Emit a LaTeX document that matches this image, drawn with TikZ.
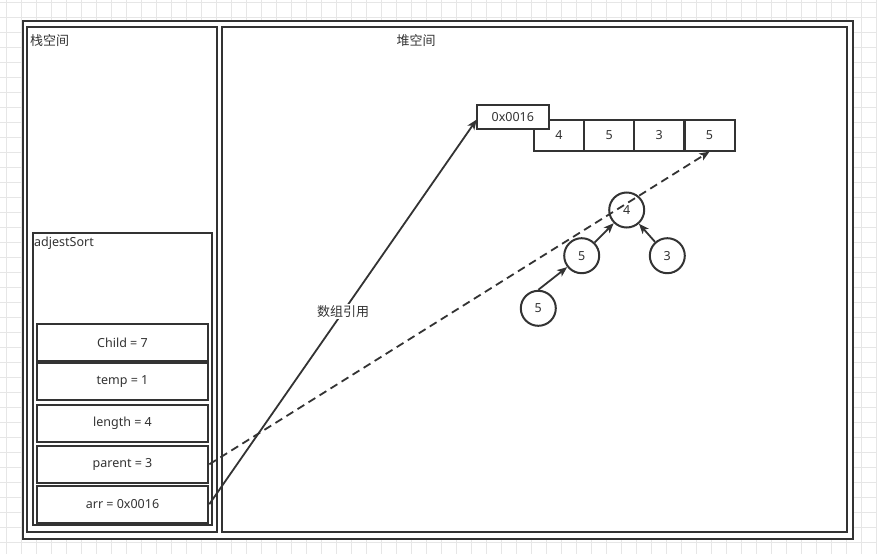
\documentclass[tikz,border=0pt]{standalone}
\usepackage{fontspec}
\setmainfont{Noto Sans}
\newfontfamily\cjk{Noto Sans CJK SC}
\usetikzlibrary{arrows.meta}
\definecolor{ink}{HTML}{333333}
\definecolor{gridc}{HTML}{E6E6E6}
\begin{document}
\begin{tikzpicture}[x=1pt,y=-1pt,
  font=\fontsize{12.5}{15}\selectfont, text=ink,
  frame/.style={draw=ink, line width=2pt},
  var/.style={draw=ink, line width=2pt, fill=white, minimum width=171.6pt, minimum height=37pt, inner sep=0pt},
  cell/.style={draw=ink, line width=2pt, fill=white, minimum width=50pt, minimum height=30.7pt, inner sep=0pt},
  heapnode/.style={draw=ink, line width=2pt, fill=white, circle, minimum size=35pt, inner sep=0pt},
  conn/.style={draw=ink, line width=1.8pt},
  tip/.style={-{Stealth[length=10pt,width=8pt,inset=2.5pt]}}
]
\useasboundingbox (0,0) rectangle (877,554);
% background grid
\fill[white] (0,0) rectangle (877,554);
\foreach \gx in {0,...,58} {\draw[gridc, line width=0.8pt] ({6.7+15*\gx},0) -- ({6.7+15*\gx},554);}
\foreach \gy in {0,...,36} {\draw[gridc, line width=0.8pt] (0,{2.5+15*\gy}) -- (877,{2.5+15*\gy});}
% containers
\draw[frame, fill=white] (22.7,20.7) rectangle (852.7,539.3);
\draw[frame] (27.3,27.3) rectangle (217.3,531.7);
\draw[frame] (221.7,27.3) rectangle (846.7,532.3);
\draw[frame] (33.3,233.3) rectangle (212,525);
\node[anchor=west, inner sep=0pt, font=\cjk\fontsize{13}{15}\selectfont] (stacklbl) at (30,41) {栈空间};
\node[inner sep=0pt, font=\cjk\fontsize{13}{15}\selectfont] (heaplbl) at (416,40.7) {堆空间};
\node[anchor=west, inner sep=0pt] (adjlbl) at (34,243.5) {adjestSort};
% variables
\node[var] (child) at (122.5,342.5) {Child = 7};
\node[var] (temp) at (122.5,381.3) {temp = 1};
\node[var] (len) at (122.5,423.3) {length = 4};
\node[var] (parent) at (122.5,464.3) {parent = 3};
\node[var] (arr) at (122.5,504.2) {arr = 0x0016};
% array in heap
\node[cell] (c1) at (559,135.3) {4};
\node[cell] (c2) at (609.3,135.3) {5};
\node[cell] (c3) at (659.3,135.3) {3};
\node[cell] (c4) at (709.5,135.3) {5};
\node[draw=ink, line width=2pt, fill=white, minimum width=72.3pt, minimum height=24.3pt, inner sep=0pt] (addr) at (512.8,117.2) {0x0016};
\coordinate (addrin) at (476.7,119.5);
% heap tree
\node[heapnode] (n4) at (626.7,210) {4};
\node[heapnode] (m5) at (581.7,255.7) {5};
\node[heapnode] (n3) at (667.3,255.7) {3};
\node[heapnode] (b5) at (538.3,308.3) {5};
\draw[conn, tip] (b5.north) -- (m5);
\draw[conn, tip] (m5) -- (n4);
\draw[conn, tip] (n3) -- (n4);
% references
\draw[conn, tip] (arr.east) -- node[fill=white, inner sep=1.5pt, pos=0.5, font=\cjk\fontsize{13}{15}\selectfont] (reflbl) {数组引用} (addrin);
\draw[conn, tip, dash pattern=on 8pt off 5pt] (parent.east) -- (c4.south);
\end{tikzpicture}
\end{document}
